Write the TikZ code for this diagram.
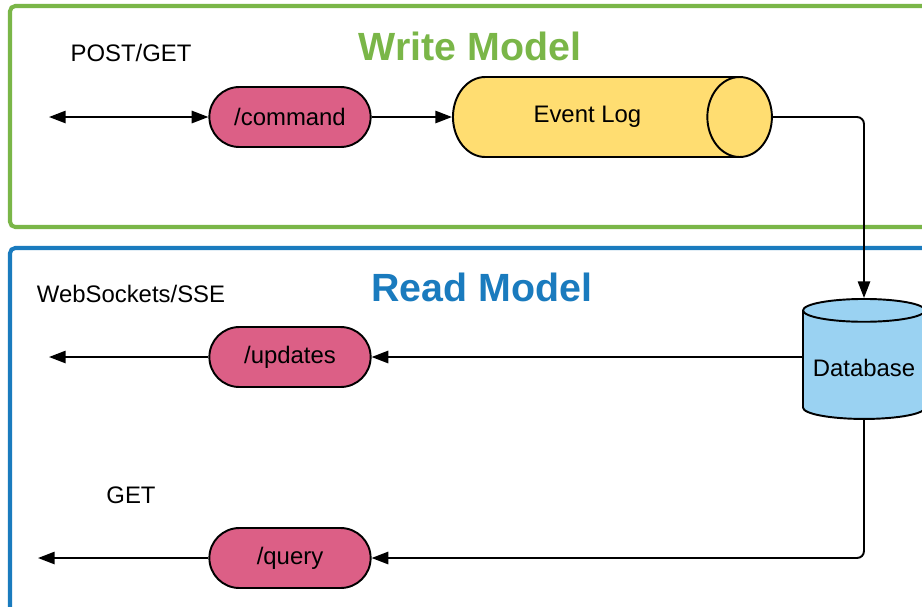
\documentclass[tikz,border=0pt]{standalone}
\usepackage{fontspec}
\setmainfont{Liberation Sans}
\usetikzlibrary{arrows.meta,positioning,shapes.geometric,shapes.misc}

\definecolor{writegreen}{HTML}{7AB648}
\definecolor{readblue}{HTML}{1A7BBE}
\definecolor{endpointpink}{HTML}{DC5F86}
\definecolor{logyellow}{HTML}{FFDD71}
\definecolor{dbblue}{HTML}{9AD2F2}

\tikzset{
  >={Triangle[length=9.5pt,width=7pt]},
  model/.style={draw,line width=2.3pt,rounded corners=3pt},
  modeltitle/.style={font=\fontsize{22.4}{26}\selectfont\bfseries},
  endpt/.style={draw,line width=1.1pt,rounded rectangle,fill=endpointpink,
    minimum width=3.46cm,minimum height=1.2cm},
  flow/.style={line width=1.1pt},
}

\begin{document}
\begin{tikzpicture}[x=0.02cm,y=-0.02cm,font=\fontsize{13.6}{16}\selectfont]
  \useasboundingbox[fill=white] (0,0) rectangle (922,606);
  \clip (0,0) rectangle (922,606);

  % model frames, open to the right and bottom
  \draw[model,writegreen] (10,6) rectangle (960,227);
  \draw[model,readblue] (10,248) rectangle (960,640);
  \node[modeltitle,text=writegreen] (wtitle) at (470,46) {Write Model};
  \node[modeltitle,text=readblue] (rtitle) at (482,287) {Read Model};

  % write side
  \node (postget) at (131,53) {POST/GET};
  \node[endpt] (command) at (290,117) {/command};
  \node[draw,line width=1.1pt,cylinder,aspect=1.95,fill=logyellow,anchor=west,
    minimum height=6.38cm,minimum width=1.6cm] (log) at (452,117) {Event Log};
  \coordinate (client) at (49,117);

  % read side
  \node[draw,line width=1.1pt,cylinder,shape border rotate=90,aspect=0.2,anchor=north,
    fill=dbblue,minimum width=2.44cm,minimum height=2.4cm] (db) at (864,298) {Database};
  \node (wsse) at (131,294) {WebSockets/SSE};
  \node[endpt] (updates) at (290,357) {/updates};
  \coordinate (pushout) at (49,357);
  \node (get) at (131,495) {GET};
  \node[endpt] (query) at (290,558) {/query};
  \coordinate (queryout) at (38,558);

  \draw[flow,<->] (client) -- (command);
  \draw[flow,->] (command) -- (log);
  \draw[flow,->,rounded corners=4pt] (log.east) -| (db.north);
  \draw[flow,->] (db.west |- updates) -- (updates);
  \draw[flow,->] (updates) -- (pushout);
  \draw[flow,->,rounded corners=4pt] (db.south) |- (query);
  \draw[flow,->] (query) -- (queryout);
\end{tikzpicture}
\end{document}
